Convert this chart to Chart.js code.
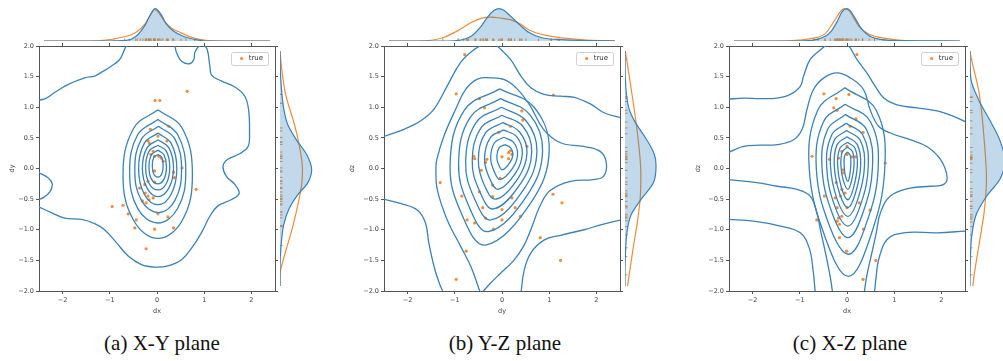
<!DOCTYPE html>
<html>
<head>
<meta charset="utf-8">
<script src="https://cdn.jsdelivr.net/npm/chart.js@4.4.1/dist/chart.umd.min.js"></script>
<style>
  body { margin: 0; background: #fff; }
  #fig { position: relative; width: 1003px; height: 361px; overflow: hidden; }
  #fig canvas { position: absolute; }
  .cap { position: absolute; top: 331px; width: 300px; text-align: center;
         font-family: "Liberation Serif", serif; font-size: 21px; line-height: 24px; color: #111; }
</style>
</head>
<body>
<div id="fig"></div>
<script>
// tick values shared by the three joint plots
const xTickValues = [-2, -1, 0, 1, 2];
const yTickValues = [-2, -1.5, -1, -0.5, 0, 0.5, 1, 1.5, 2];

// ---------- (a) X-Y plane ----------
const xyTrue = [[0.64,1.26],[-0.04,1.11],[0.06,1.11],[0.25,0.69],[-0.14,0.64],[-0.19,0.45],[-0.16,0.41],[0.02,0.53],
  [0.21,0.45],[-0.08,0.28],[-0.13,0.23],[-0.05,0.20],[0.04,0.20],[0.09,0.17],[0.13,0.12],[0.53,0.01],[0.35,-0.06],
  [0.37,-0.15],[-0.05,-0.04],[-0.19,-0.21],[-0.05,-0.22],[-0.26,-0.26],[0.83,-0.34],[-0.37,-0.32],[-0.25,-0.40],
  [-0.19,-0.45],[-0.17,-0.51],[-0.08,-0.48],[-0.31,-0.53],[-0.23,-0.56],[-0.72,-0.60],[-0.95,-0.62],[-0.61,-0.74],
  [0.02,-0.74],[0.23,-0.79],[-0.44,-0.84],[-0.47,-0.97],[-0.05,-0.99],[0.35,-0.97],[-0.23,-1.31]];
const xyLevels = [
  [[0.02,0.96],[0.54,0.65],[0.75,-0.10],[0.54,-0.84],[0.02,-1.14],[-0.50,-0.84],[-0.72,-0.10],[-0.50,0.65],[0.02,0.96]],
  [[0.02,0.80],[0.44,0.55],[0.61,-0.05],[0.44,-0.65],[0.02,-0.89],[-0.41,-0.65],[-0.58,-0.05],[-0.41,0.55],[0.02,0.80]],
  [[0.03,0.69],[0.38,0.48],[0.52,-0.02],[0.38,-0.52],[0.03,-0.72],[-0.33,-0.52],[-0.47,-0.02],[-0.33,0.48],[0.03,0.69]],
  [[0.02,0.58],[0.30,0.41],[0.42,0.00],[0.30,-0.42],[0.02,-0.59],[-0.27,-0.42],[-0.39,0.00],[-0.27,0.41],[0.02,0.58]],
  [[0.02,0.47],[0.25,0.34],[0.35,0.01],[0.25,-0.32],[0.02,-0.46],[-0.21,-0.32],[-0.31,0.01],[-0.21,0.34],[0.02,0.47]],
  [[0.02,0.38],[0.20,0.28],[0.27,0.02],[0.20,-0.24],[0.02,-0.35],[-0.17,-0.24],[-0.24,0.02],[-0.17,0.28],[0.02,0.38]],
  [[0.02,0.30],[0.15,0.22],[0.20,0.03],[0.15,-0.17],[0.02,-0.25],[-0.12,-0.17],[-0.17,0.03],[-0.12,0.22],[0.02,0.30]],
  [[0.02,0.23],[0.10,0.18],[0.13,0.05],[0.10,-0.09],[0.02,-0.14],[-0.07,-0.09],[-0.10,0.05],[-0.07,0.18],[0.02,0.23]],
  [[-2.52,1.11],[-2.34,1.15],[-2.17,1.24],[-1.89,1.37],[-1.53,1.48],[-1.32,1.51],[-1.18,1.57],[-0.97,1.67],
   [-0.79,1.78],[-0.69,1.94],[-0.64,2.03]],
  [[0.37,2.03],[0.42,1.88],[0.52,1.75],[0.69,1.71],[0.78,1.78],[0.80,1.89],[0.87,1.98],[0.97,2.01],[1.06,1.95],
   [1.12,1.67],[1.16,1.52],[1.36,1.43],[1.65,1.33],[1.86,1.18],[1.94,0.96],[1.96,0.58],[1.93,0.36],[1.75,0.24],
   [1.50,0.15],[1.40,0.04],[1.47,-0.13],[1.65,-0.26],[1.74,-0.41],[1.57,-0.51],[1.29,-0.61],[1.12,-0.78],[0.94,-1.05],
   [0.76,-1.27],[0.52,-1.49],[0.23,-1.59],[-0.05,-1.61],[-0.33,-1.57],[-0.61,-1.43],[-0.86,-1.21],[-1.11,-1.00],
   [-1.32,-0.90],[-1.60,-0.83],[-1.96,-0.81],[-2.24,-0.72],[-2.52,-0.62]],
  [[-2.52,-0.06],[-2.31,-0.15],[-2.22,-0.25],[-2.27,-0.38],[-2.42,-0.48],[-2.52,-0.51]]
];
const xyTopPred = [[-2.5,0],[-1.2,0],[-0.68,0.02],[-0.47,0.14],[-0.26,0.50],[-0.16,0.78],[-0.04,1.0],[0.09,0.82],
  [0.20,0.54],[0.37,0.30],[0.59,0.14],[0.87,0.04],[1.08,0],[2.5,0]];
const xyTopTrue = [[-2.5,0],[-1.5,0],[-1.18,0.02],[-0.83,0.10],[-0.47,0.26],[-0.26,0.54],[-0.12,0.86],[-0.06,0.98],
  [0.02,0.90],[0.16,0.62],[0.30,0.42],[0.52,0.26],[0.80,0.10],[1.08,0.02],[1.5,0],[2.5,0]];
const xyRightPred = [[2.0,0],[1.56,0.02],[1.01,0.12],[0.74,0.25],[0.47,0.54],[0.25,0.83],[-0.02,1.0],[-0.24,0.88],
  [-0.46,0.54],[-0.68,0.29],[-0.95,0.12],[-1.28,0.04],[-1.71,0],[-2.0,0]];
const xyRightTrue = [[2.0,0],[1.77,0.04],[1.28,0.17],[0.74,0.46],[0.47,0.58],[-0.02,0.71],[-0.24,0.69],[-0.50,0.61],
  [-0.95,0.42],[-1.28,0.25],[-1.60,0.08],[-1.82,0],[-2.0,0]];

// ---------- (b) Y-Z plane ----------
const yzTrue = [[-0.79,1.86],[-0.97,1.22],[1.09,1.20],[-0.48,1.14],[-0.37,0.99],[0.42,0.94],[0.44,0.79],[0.18,0.69],
  [-0.07,0.59],[0.53,0.36],[0.18,0.29],[0.14,0.26],[0.21,0.23],[0.0,0.19],[0.14,0.16],[-0.60,0.20],[-0.58,0.16],
  [-0.32,0.15],[-0.35,0.10],[-0.44,-0.03],[-0.04,-0.16],[-1.31,-0.23],[-0.20,-0.27],[-0.48,-0.38],[-0.85,-0.45],
  [-0.20,-0.46],[0.21,-0.48],[1.08,-0.42],[1.27,-0.56],[0.28,-0.64],[-0.41,-0.64],[-0.35,-0.81],[0.0,-0.67],
  [-0.74,-0.84],[-0.58,-0.89],[0.0,-0.84],[0.39,-0.78],[-0.18,-0.99],[0.81,-1.13],[-0.76,-1.35],[1.24,-1.50],[-0.97,-1.81]];
const yzLevels = [
  [[-0.05,1.30],[0.68,1.00],[1.00,0.30],[0.62,-0.55],[-0.35,-1.25],[-0.85,-0.75],[-1.10,0.05],[-0.80,0.95],[-0.05,1.30]],
  [[-0.03,1.14],[0.59,0.88],[0.86,0.29],[0.54,-0.43],[-0.29,-1.03],[-0.71,-0.60],[-0.92,0.08],[-0.67,0.84],[-0.03,1.14]],
  [[-0.01,1.00],[0.51,0.78],[0.74,0.28],[0.47,-0.33],[-0.23,-0.84],[-0.59,-0.48],[-0.77,0.10],[-0.55,0.75],[-0.01,1.00]],
  [[0.00,0.87],[0.44,0.69],[0.63,0.27],[0.40,-0.24],[-0.18,-0.66],[-0.48,-0.36],[-0.63,0.12],[-0.45,0.66],[0.00,0.87]],
  [[0.02,0.75],[0.37,0.60],[0.53,0.26],[0.34,-0.16],[-0.13,-0.50],[-0.38,-0.26],[-0.50,0.14],[-0.35,0.58],[0.02,0.75]],
  [[0.03,0.63],[0.31,0.52],[0.43,0.25],[0.29,-0.07],[-0.08,-0.34],[-0.27,-0.15],[-0.37,0.16],[-0.25,0.50],[0.03,0.63]],
  [[0.04,0.51],[0.24,0.43],[0.33,0.24],[0.23,0.01],[-0.04,-0.18],[-0.17,-0.04],[-0.24,0.17],[-0.16,0.42],[0.04,0.51]],
  [[0.06,0.39],[0.18,0.34],[0.23,0.23],[0.17,0.10],[0.01,-0.02],[-0.07,0.06],[-0.11,0.19],[-0.06,0.34],[0.06,0.39]],
  [[-2.52,0.52],[-2.08,0.64],[-1.72,0.78],[-1.44,0.97],[-1.16,1.35],[-0.88,1.73],[-0.63,1.92],[-0.38,2.03],[-0.20,2.05],
   [-0.06,1.97],[0.18,1.78],[0.40,1.51],[0.61,1.32],[0.89,1.21],[1.24,1.18],[1.53,1.16],[1.88,1.05],[2.16,0.91],[2.52,0.83]],
  [[-0.45,-2.05],[-0.24,-1.87],[-0.03,-1.71],[0.25,-1.50],[0.47,-1.25],[0.62,-0.98],[0.80,-0.62],[1.02,-0.36],[1.45,-0.21],
   [1.94,-0.18],[2.15,-0.13],[2.21,0.09],[2.08,0.28],[1.73,0.36],[1.24,0.42],[0.88,0.64],[0.60,1.02],[0.32,1.30],
   [0.05,1.45],[-0.24,1.48],[-0.52,1.46],[-0.77,1.29],[-0.98,0.97],[-1.22,0.55],[-1.38,0.15],[-1.40,-0.02],[-1.37,-0.35],
   [-1.16,-0.84],[-0.87,-1.28],[-0.66,-1.60],[-0.49,-1.96],[-0.45,-2.05]],
  [[2.52,-0.84],[2.09,-0.92],[1.74,-1.00],[1.24,-1.09],[0.89,-1.17],[0.61,-1.38],[0.47,-1.66],[0.40,-2.05]],
  [[-2.52,-0.50],[-2.15,-0.57],[-1.79,-0.68],[-1.62,-0.89],[-1.55,-1.22],[-1.44,-1.60],[-1.33,-1.87],[-1.23,-2.05]]
];
const yzTopPred = [[-2.5,0],[-1.2,0],[-0.95,0.02],[-0.67,0.16],[-0.46,0.46],[-0.32,0.74],[-0.18,0.94],[-0.07,1.0],
  [0.04,0.95],[0.21,0.74],[0.39,0.50],[0.60,0.26],[0.88,0.10],[1.31,0.04],[2.0,0.01],[2.5,0]];
const yzTopTrue = [[-2.5,0],[-1.9,0],[-1.66,0.01],[-1.31,0.10],[-0.95,0.34],[-0.67,0.58],[-0.46,0.70],[-0.25,0.74],
  [-0.04,0.71],[0.18,0.66],[0.39,0.54],[0.60,0.34],[0.95,0.18],[1.45,0.08],[2.0,0.02],[2.44,0.01],[2.5,0]];
const yzRightPred = [[2.0,0],[1.55,0.01],[1.01,0.13],[0.79,0.32],[0.52,0.65],[0.25,0.92],[0.05,0.98],[-0.24,0.90],
  [-0.51,0.53],[-0.79,0.19],[-1.06,0.07],[-1.44,0.015],[-1.8,0],[-2.0,0]];
const yzRightTrue = [[2.0,0.01],[1.55,0.14],[1.01,0.29],[0.47,0.42],[-0.08,0.50],[-0.51,0.48],[-0.95,0.38],
  [-1.38,0.25],[-1.82,0.13],[-2.0,0.08]];

// ---------- (c) X-Z plane ----------
const xzTrue = [[0.21,1.86],[-0.49,1.22],[0.04,1.21],[-0.23,1.14],[-0.28,0.99],[-0.21,0.95],[0.19,0.81],[0.07,0.69],
  [0.34,0.59],[0.0,0.36],[-0.11,0.28],[-0.74,0.20],[0.0,0.23],[0.11,0.19],[0.18,0.19],[-0.18,0.17],[-0.37,0.15],
  [-0.09,-0.02],[-0.07,-0.07],[0.81,0.09],[-0.23,-0.23],[-0.11,-0.34],[-0.04,-0.40],[-0.48,-0.45],[-0.25,-0.48],
  [-0.14,-0.45],[0.26,-0.56],[-0.21,-0.64],[0.0,-0.64],[0.49,-0.68],[-0.64,-0.84],[-0.18,-0.81],[-0.11,-0.78],
  [-0.21,-0.86],[-0.16,-0.91],[0.35,-0.99],[-0.16,-1.13],[-0.01,-1.35],[0.61,-1.50],[0.34,-1.81]];
const xzLevels = [
  [[-0.05,1.32],[0.62,0.95],[0.80,0.00],[0.48,-1.15],[0.03,-1.76],[-0.45,-1.15],[-0.80,0.00],[-0.62,0.95],[-0.05,1.32]],
  [[-0.04,1.05],[0.50,0.76],[0.66,0.00],[0.40,-0.92],[0.03,-1.40],[-0.38,-0.92],[-0.65,0.00],[-0.50,0.76],[-0.04,1.05]],
  [[-0.03,0.88],[0.41,0.64],[0.54,0.02],[0.33,-0.74],[0.02,-1.13],[-0.31,-0.74],[-0.53,0.02],[-0.41,0.64],[-0.03,0.88]],
  [[-0.02,0.74],[0.34,0.54],[0.45,0.03],[0.28,-0.61],[0.02,-0.94],[-0.26,-0.61],[-0.43,0.03],[-0.33,0.54],[-0.02,0.74]],
  [[-0.01,0.62],[0.28,0.46],[0.37,0.04],[0.23,-0.50],[0.02,-0.78],[-0.21,-0.50],[-0.35,0.04],[-0.27,0.46],[-0.01,0.62]],
  [[0.00,0.52],[0.22,0.39],[0.29,0.05],[0.18,-0.40],[0.02,-0.64],[-0.16,-0.40],[-0.27,0.05],[-0.21,0.39],[0.00,0.52]],
  [[0.01,0.43],[0.17,0.33],[0.22,0.06],[0.14,-0.31],[0.02,-0.51],[-0.12,-0.31],[-0.20,0.06],[-0.15,0.33],[0.01,0.43]],
  [[0.01,0.35],[0.12,0.27],[0.15,0.06],[0.10,-0.19],[0.02,-0.34],[-0.08,-0.19],[-0.13,0.06],[-0.10,0.27],[0.01,0.35]],
  [[0.01,0.27],[0.07,0.21],[0.08,0.06],[0.06,-0.10],[0.02,-0.21],[-0.04,-0.10],[-0.06,0.06],[-0.05,0.21],[0.01,0.27]],
  [[-2.52,1.13],[-2.19,1.15],[-1.84,1.14],[-1.48,1.15],[-1.20,1.21],[-0.99,1.34],[-0.92,1.51],[-0.78,1.78],[-0.56,1.94],
   [-0.39,2.03],[-0.20,2.05],[0.00,2.03],[0.21,1.78],[0.42,1.56],[0.60,1.34],[0.78,1.15],[1.06,1.04],[1.48,0.99],
   [1.91,0.94],[2.26,0.85],[2.52,0.76]],
  [[-2.52,0.26],[-2.19,0.36],[-1.84,0.38],[-1.48,0.39],[-1.13,0.47],[-0.95,0.64],[-0.85,0.96],[-0.71,1.29],[-0.49,1.48],
   [-0.21,1.56],[0.07,1.48],[0.35,1.29],[0.49,0.96],[0.67,0.69],[0.92,0.58],[1.34,0.47],[1.69,0.36],[1.98,0.15],
   [2.12,-0.13],[2.05,-0.26],[1.77,-0.29],[1.34,-0.32],[0.92,-0.45],[0.71,-0.72],[0.62,-1.05],[0.52,-1.40],[0.42,-1.75],[0.36,-2.05]],
  [[-2.52,-0.18],[-1.91,-0.23],[-1.48,-0.29],[-1.06,-0.34],[-0.78,-0.45],[-0.64,-0.72],[-0.55,-1.05],[-0.45,-1.40],
   [-0.36,-1.75],[-0.30,-2.05]],
  [[-2.52,-0.83],[-1.98,-0.86],[-1.41,-0.94],[-0.99,-1.05],[-0.80,-1.30],[-0.72,-1.65],[-0.67,-2.05]],
  [[2.52,-1.02],[1.91,-1.05],[1.20,-1.05],[0.85,-1.16],[0.67,-1.49],[0.62,-1.75],[0.58,-2.05]]
];
const xzTopPred = [[-2.5,0],[-1.2,0],[-0.78,0.02],[-0.49,0.14],[-0.35,0.30],[-0.21,0.62],[-0.11,0.90],[-0.01,1.0],
  [0.07,0.94],[0.18,0.70],[0.32,0.38],[0.49,0.16],[0.78,0.04],[1.2,0.01],[2.5,0]];
const xzTopTrue = [[-2.5,0],[-1.5,0],[-1.13,0.02],[-0.78,0.08],[-0.49,0.22],[-0.28,0.62],[-0.14,0.92],[-0.07,0.99],
  [0.04,0.95],[0.14,0.74],[0.28,0.42],[0.49,0.21],[0.85,0.08],[1.2,0.02],[1.6,0],[2.5,0]];
const xzRightPred = [[2.0,0],[1.56,0.02],[1.15,0.29],[0.80,0.65],[0.47,0.95],[0.15,1.10],[-0.18,0.95],[-0.46,0.54],
  [-0.78,0.20],[-1.17,0.05],[-1.6,0.01],[-2.0,0]];
const xzRightTrue = [[2.0,0],[1.93,0.02],[1.28,0.29],[0.47,0.45],[-0.18,0.52],[-0.73,0.45],[-1.28,0.29],[-1.82,0.13],[-2.0,0.09]];

// layout of the three panels (plot box in page pixels)
const panels = [
  {caption: '(a) X-Y plane', xTitle: 'dx', yTitle: 'dy', pts: xyTrue, levels: xyLevels,
   topPred: xyTopPred, topTrue: xyTopTrue, rightPred: xyRightPred, rightTrue: xyRightTrue, left: 39, titlePad: 8, capX: 162},
  {caption: '(b) Y-Z plane', xTitle: 'dy', yTitle: 'dz', pts: yzTrue, levels: yzLevels,
   topPred: yzTopPred, topTrue: yzTopTrue, rightPred: yzRightPred, rightTrue: yzRightTrue, left: 384, titlePad: 3, capX: 505},
  {caption: '(c) X-Z plane', xTitle: 'dx', yTitle: 'dz', pts: xzTrue, levels: xzLevels,
   topPred: xzTopPred, topTrue: xzTopTrue, rightPred: xzRightPred, rightTrue: xzRightTrue, left: 729, titlePad: 4, capX: 850}
];

const BLUE = '#3a82b9';
const FILL = 'rgba(31,119,180,0.28)';
const ORANGE = '#f28c38';
const AXIS = '#555';
const FONT = 'DejaVu Sans';
const PLOT_W = 236, PLOT_TOP = 46, PLOT_H = 245;

const fig = document.getElementById('fig');
function addCanvas(left, top, w, h) {
  const c = document.createElement('canvas');
  c.width = w; c.height = h;
  c.style.left = left + 'px'; c.style.top = top + 'px';
  c.style.width = w + 'px'; c.style.height = h + 'px';
  fig.appendChild(c);
  return c;
}
const toXY = arr => arr.map(([x, y]) => ({x, y}));
const minus = s => s.replace('-', '\u2212');

// legend in the upper right corner of the plot, with a matplotlib-like frame
const legendFrame = {
  id: 'legendFrame',
  afterUpdate(chart) {
    const lg = chart.legend;
    const hb = lg && lg.legendHitBoxes[0];
    if (!hb) return;
    const a = chart.chartArea;
    const dx = (a.right - 12) - (hb.left + hb.width);
    const dy = (a.top + 12.5) - (hb.top + hb.height / 2);
    lg.left += dx; lg.right += dx;
    lg.top += dy; lg.bottom += dy;
    lg.legendHitBoxes.forEach(b => { b.left += dx; b.top += dy; });
  },
  afterDatasetsDraw(chart) {
    const hb = chart.legend && chart.legend.legendHitBoxes[0];
    if (!hb) return;
    const ctx = chart.ctx;
    ctx.save();
    ctx.fillStyle = 'rgba(255,255,255,0.85)';
    ctx.strokeStyle = '#d0d0d0';
    ctx.lineWidth = 1;
    ctx.beginPath();
    ctx.roundRect(Math.round(hb.left - 7) + 0.5, Math.round(hb.top + hb.height / 2 - 6.5) + 0.5, Math.round(hb.width + 12), 13, 2);
    ctx.fill();
    ctx.stroke();
    ctx.restore();
    chart.legend.draw();
  }
};

function axisCommon(min, max, values) {
  return {
    type: 'linear', min, max,
    afterBuildTicks: s => { s.ticks = values.map(v => ({value: v})); },
    grid: {drawOnChartArea: false, tickLength: 3, color: AXIS, lineWidth: 1},
    border: {color: AXIS, width: 1}
  };
}

panels.forEach(p => {
  // main joint plot: KDE contours + true samples
  const main = addCanvas(p.left - 39, 40, 39 + PLOT_W + 8, 6 + PLOT_H + 24);
  const datasets = p.levels.map(c => ({
    label: '', data: toXY(c), showLine: true, fill: false,
    borderColor: BLUE, borderWidth: 1.3, pointRadius: 0, tension: 0.4
  }));
  datasets.push({
    label: 'true', data: toXY(p.pts), showLine: false,
    pointRadius: 1.6, pointStyle: 'circle', backgroundColor: ORANGE, borderWidth: 0
  });
  new Chart(main, {
    type: 'scatter',
    data: {datasets},
    options: {
      responsive: false, animation: false, events: [],
      layout: {padding: {top: 6, right: 8, left: 0, bottom: 0}},
      plugins: {
        legend: {
          position: 'chartArea', align: 'start',
          labels: {
            filter: item => item.text === 'true',
            usePointStyle: true, pointStyle: 'circle', boxWidth: 7, boxHeight: 2.2,
            font: {family: FONT, size: 7}, color: '#444', padding: 8
          }
        },
        tooltip: {enabled: false}
      },
      scales: {
        x: Object.assign(axisCommon(-2.5, 2.5, xTickValues), {
          position: 'bottom',
          ticks: {font: {family: FONT, size: 6.5}, color: '#444', padding: 2,
                  callback: v => minus(String(v))},
          title: {display: true, text: p.xTitle, font: {family: FONT, size: 6.5}, color: '#444', padding: 0},
          afterFit: s => { s.height = 24; }
        }),
        y: Object.assign(axisCommon(-2, 2, yTickValues), {
          position: 'left',
          ticks: {font: {family: FONT, size: 6.5}, color: '#444', padding: 2,
                  callback: v => minus(v.toFixed(1))},
          title: {display: true, text: p.yTitle, font: {family: FONT, size: 6.5}, color: '#444',
                  padding: {top: p.titlePad, bottom: 0}},
          afterFit: s => { s.width = 39; }
        }),
        x2: Object.assign(axisCommon(-2.5, 2.5, xTickValues), {
          position: 'top', ticks: {display: false}, afterFit: s => { s.height = 0; }
        }),
        y2: Object.assign(axisCommon(-2, 2, yTickValues), {
          position: 'right', ticks: {display: false}, afterFit: s => { s.width = 0; }
        })
      }
    },
    plugins: [legendFrame]
  });

  // top marginal: density of the first coordinate
  const top = addCanvas(p.left, 3, PLOT_W, PLOT_TOP - 3);
  new Chart(top, {
    type: 'line',
    data: {datasets: [
      {data: toXY(p.topPred), borderColor: BLUE, backgroundColor: FILL, fill: 'origin',
       borderWidth: 1.2, pointRadius: 0, cubicInterpolationMode: 'monotone'},
      {data: toXY(p.topTrue), borderColor: ORANGE, fill: false,
       borderWidth: 1.2, pointRadius: 0, cubicInterpolationMode: 'monotone'},
      {data: p.pts.map(([x]) => ({x, y: 0})), showLine: false, pointStyle: 'line', rotation: 90,
       pointRadius: 2.5, borderColor: ORANGE, borderWidth: 1}
    ]},
    options: {
      responsive: false, animation: false, events: [],
      layout: {padding: 0},
      plugins: {legend: {display: false}, tooltip: {enabled: false}},
      scales: {
        x: {type: 'linear', display: false, min: -2.5, max: 2.5},
        y: {type: 'linear', display: false, min: 0, max: 1.02}
      }
    }
  });

  // right marginal: density of the second coordinate
  const right = addCanvas(p.left + PLOT_W, PLOT_TOP, 48, PLOT_H);
  new Chart(right, {
    type: 'line',
    data: {datasets: [
      {data: p.rightPred.map(([y, d]) => ({x: d, y})), borderColor: BLUE, backgroundColor: FILL, fill: 'origin',
       borderWidth: 1.2, pointRadius: 0, cubicInterpolationMode: 'monotone'},
      {data: p.rightTrue.map(([y, d]) => ({x: d, y})), borderColor: ORANGE, fill: false,
       borderWidth: 1.2, pointRadius: 0, cubicInterpolationMode: 'monotone'},
      {data: p.pts.map(([, y]) => ({x: 0, y})), showLine: false, pointStyle: 'line',
       pointRadius: 2.5, borderColor: ORANGE, borderWidth: 1}
    ]},
    options: {
      indexAxis: 'y',
      responsive: false, animation: false, events: [],
      layout: {padding: 0},
      plugins: {legend: {display: false}, tooltip: {enabled: false}},
      scales: {
        x: {type: 'linear', display: false, min: 0, max: 1.2},
        y: {type: 'linear', display: false, min: -2, max: 2}
      }
    }
  });

  const cap = document.createElement('div');
  cap.className = 'cap';
  cap.style.left = (p.capX - 150) + 'px';
  cap.textContent = p.caption;
  fig.appendChild(cap);
});
</script>
</body>
</html>
